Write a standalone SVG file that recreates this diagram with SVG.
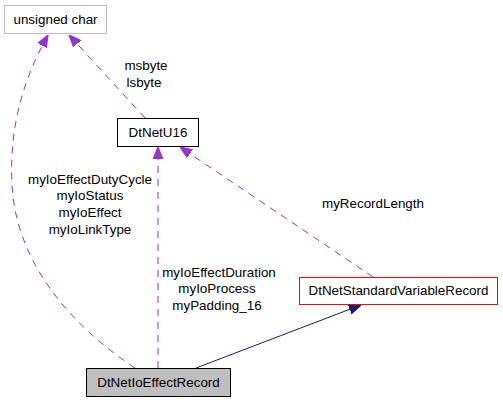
<svg xmlns="http://www.w3.org/2000/svg" width="503" height="403" viewBox="0 0 503 403">
<style>
.node rect{stroke-width:1}
text{font-family:"Liberation Sans",Arial,sans-serif;font-size:13.4px;fill:#000}
.lbl{text-anchor:middle}
.dash{fill:none;stroke:#9a32cd;stroke-width:1;stroke-dasharray:7,6}
.solid{fill:none;stroke:#191970;stroke-width:1}
</style>
<defs>
<marker id="ap" viewBox="0 0 10 10" refX="10" refY="5" markerWidth="12" markerHeight="12" markerUnits="userSpaceOnUse" orient="auto">
<path d="M0,1 L10,5 L0,9 Z" fill="#9a32cd" stroke="#9a32cd"/>
</marker>
<marker id="an" viewBox="0 0 10 10" refX="10" refY="5" markerWidth="12" markerHeight="12" markerUnits="userSpaceOnUse" orient="auto">
<path d="M0,1 L10,5 L0,9 Z" fill="#191970" stroke="#191970"/>
</marker>
</defs>
<g id="connectors">
<path class="dash" d="M135,368 C70,325 16,262 12,185 C9,125 24,78 48,35" marker-end="url(#ap)"/>
<path class="dash" d="M145,118 L69,35" marker-end="url(#ap)"/>
<path class="dash" d="M158,368 L158,147" marker-end="url(#ap)"/>
<path class="dash" d="M373,277 L180,147" marker-end="url(#ap)"/>
<path class="solid" d="M196,368 L361,305" marker-end="url(#an)"/>
<text class="lbl" x="90" y="184">myIoEffectDutyCycle</text>
<text class="lbl" x="90" y="200">myIoStatus</text>
<text class="lbl" x="90" y="217">myIoEffect</text>
<text class="lbl" x="90" y="234">myIoLinkType</text>
<text class="lbl" x="146" y="70">msbyte</text>
<text class="lbl" x="144" y="87">lsbyte</text>
<text class="lbl" x="219" y="277">myIoEffectDuration</text>
<text class="lbl" x="217" y="293">myIoProcess</text>
<text class="lbl" x="217" y="310">myPadding_16</text>
<text class="lbl" x="373" y="208">myRecordLength</text>
</g>
<g id="node-unsigned-char" class="node">
<rect x="4.5" y="5.5" width="102" height="28" fill="#fff" stroke="#bfbfbf"/>
<text class="lbl" x="55.5" y="24">unsigned char</text>
</g>
<g id="node-DtNetU16" class="node">
<rect x="117.5" y="118.5" width="81" height="28" fill="#fff" stroke="#000"/>
<text class="lbl" x="158" y="137">DtNetU16</text>
</g>
<g id="node-DtNetStandardVariableRecord" class="node">
<rect x="299.5" y="277.5" width="198" height="27" fill="#fff" stroke="#ff0000"/>
<text class="lbl" x="398.5" y="295">DtNetStandardVariableRecord</text>
</g>
<g id="node-DtNetIoEffectRecord" class="node">
<rect x="86.5" y="368.5" width="144" height="28" fill="#bfbfbf" stroke="#000"/>
<text class="lbl" x="158.5" y="387">DtNetIoEffectRecord</text>
</g>
</svg>
